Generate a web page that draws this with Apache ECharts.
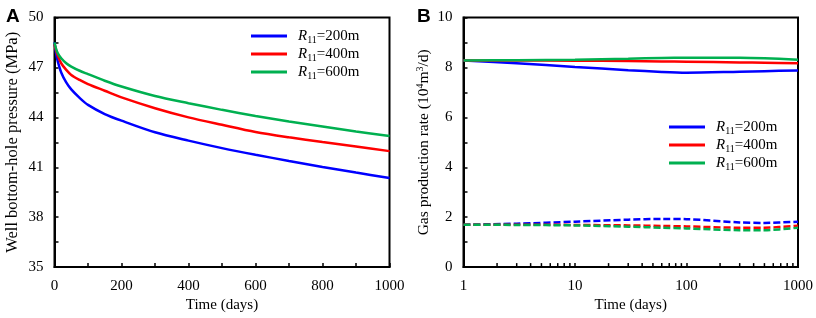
<!DOCTYPE html>
<html>
<head>
<meta charset="utf-8">
<script src="https://cdn.jsdelivr.net/npm/echarts@6/dist/echarts.min.js"></script>
<style>
  html, body { margin: 0; padding: 0; background: #fff; }
  #chart { width: 816px; height: 318px; }
</style>
</head>
<body>
<div id="chart"></div>
<script>
// panel A: bottom-hole pressure vs time
var daysA = [0, 5, 10, 20, 35, 50, 75, 100, 150, 200, 300, 400, 500, 600, 700, 800, 900, 1000];
var pres200 = [48.5, 47.8, 47.35, 46.7, 46.1, 45.68, 45.17, 44.75, 44.2, 43.8, 43.1, 42.6, 42.15, 41.75, 41.38, 41.02, 40.68, 40.35];
var pres400 = [48.4, 48.0, 47.7, 47.25, 46.85, 46.55, 46.25, 46.0, 45.6, 45.2, 44.55, 44.0, 43.55, 43.12, 42.8, 42.52, 42.25, 41.97];
var pres600 = [48.5, 48.1, 47.85, 47.55, 47.25, 47.05, 46.8, 46.6, 46.2, 45.85, 45.28, 44.85, 44.45, 44.08, 43.75, 43.45, 43.15, 42.88];

// panel B: gas production rate (log time)
var daysB = [1, 3, 10, 30, 60, 100, 300, 500, 1000];
var rate200 = [8.28, 8.17, 8.02, 7.89, 7.82, 7.79, 7.83, 7.85, 7.88];
var rate400 = [8.28, 8.28, 8.27, 8.26, 8.24, 8.23, 8.20, 8.19, 8.17];
var rate600 = [8.28, 8.29, 8.31, 8.35, 8.38, 8.39, 8.39, 8.37, 8.31];
var low200 = [1.70, 1.74, 1.82, 1.90, 1.93, 1.92, 1.79, 1.77, 1.82];
var low400 = [1.70, 1.70, 1.69, 1.67, 1.65, 1.63, 1.58, 1.58, 1.66];
var low600 = [1.70, 1.69, 1.67, 1.62, 1.58, 1.55, 1.48, 1.48, 1.58];

var seriesNames = ['R11=200m', 'R11=400m', 'R11=600m'];
var legendText = ['=200m', '=400m', '=600m'];
var colors = ['#0000ff', '#ff0000', '#00b050'];
var logMinorTicks = [2, 3, 4, 5, 6, 7, 8, 9, 20, 30, 40, 50, 60, 70, 80, 90, 200, 300, 400, 500, 600, 700, 800, 900];

var serif = 'Liberation Serif';

function pairs(xs, ys) {
  return xs.map(function (x, i) { return [x, ys[i]]; });
}

var legendRich = {
  g: { width: 6 },
  i: { fontFamily: serif, fontStyle: 'italic', fontSize: 15, lineHeight: 18, color: '#000' },
  s: { fontFamily: serif, fontSize: 10, lineHeight: 11, verticalAlign: 'bottom', color: '#000' },
  n: { fontFamily: serif, fontSize: 15, lineHeight: 18, color: '#000' }
};
function legendFmt(name) {
  return '{g|}{i|R}{s|11}{n|' + legendText[seriesNames.indexOf(name)] + '}';
}

function axisCommon() {
  return {
    axisLine: { show: true, lineStyle: { color: '#000', width: 2 } },
    axisTick: { show: true, inside: true, length: 4, lineStyle: { color: '#000', width: 1.5 } },
    minorTick: { show: true, splitNumber: 2, length: 4, lineStyle: { color: '#000', width: 1.5 } },
    splitLine: { show: false },
    minorSplitLine: { show: false },
    axisLabel: {
      fontFamily: serif, fontSize: 15, color: '#000', margin: 11,
      formatter: function (v) { return String(v); }
    },
    nameTextStyle: { fontFamily: serif, fontSize: 15, color: '#000' }
  };
}

function lineSeries(name, xi, yi, data, color, dashed) {
  return {
    name: name,
    type: 'line',
    xAxisIndex: xi,
    yAxisIndex: yi,
    data: data,
    smooth: 0.3,
    showSymbol: false,
    symbol: 'none',
    color: color,
    lineStyle: { color: color, width: 2.5, type: dashed ? [7, 3] : 'solid' },
    z: 3
  };
}

var xA = Object.assign(axisCommon(), {
  type: 'value', gridIndex: 0, min: 0, max: 1000, interval: 200,
  name: 'Time (days)', nameLocation: 'middle', nameGap: 29
});
var yA = Object.assign(axisCommon(), {
  type: 'value', gridIndex: 0, min: 35, max: 50, interval: 3,
  name: 'Well bottom-hole pressure (MPa)', nameLocation: 'middle', nameGap: 33
});
yA.nameTextStyle = { fontFamily: serif, fontSize: 16.5, color: '#000' };
var xB = Object.assign(axisCommon(), {
  type: 'log', logBase: 10, gridIndex: 1, min: 1, max: 1000,
  name: 'Time (days)', nameLocation: 'middle', nameGap: 29,
  minorTick: { show: false }
});
var yB = Object.assign(axisCommon(), {
  type: 'value', gridIndex: 1, min: 0, max: 10, interval: 2,
  name: 'Gas production rate (10{sup|4}m{sup|3}/d)', nameLocation: 'middle', nameGap: 32
});
yB.nameTextStyle = {
  fontFamily: serif, fontSize: 15.5, color: '#000',
  rich: {
    sup: { fontFamily: serif, fontSize: 10, verticalAlign: 'top', lineHeight: 10, color: '#000' }
  }
};

var myChart = echarts.init(document.getElementById('chart'), null, { renderer: 'canvas' });
var option = {
  backgroundColor: '#fff',
  animation: false,
  title: [
    { text: 'A', left: 1, top: 2, textStyle: { fontFamily: 'Liberation Sans', fontWeight: 'bold', fontSize: 19, color: '#000' } },
    { text: 'B', left: 412, top: 2, textStyle: { fontFamily: 'Liberation Sans', fontWeight: 'bold', fontSize: 19, color: '#000' } }
  ],
  grid: [
    { left: 54.5, top: 17.5, width: 335, height: 255, show: true, borderColor: '#000', borderWidth: 2 },
    { left: 463.5, top: 17.5, width: 336, height: 255, show: true, borderColor: '#000', borderWidth: 2 }
  ],
  legend: [
    {
      data: seriesNames, left: 251, top: 27, orient: 'vertical', padding: 0,
      itemWidth: 36, itemHeight: 3, itemGap: 0, icon: 'rect',
      formatter: legendFmt, textStyle: { rich: legendRich, lineHeight: 18 }
    },
    {
      data: seriesNames, left: 669, top: 118, orient: 'vertical', padding: 0,
      itemWidth: 36, itemHeight: 3, itemGap: 0, icon: 'rect',
      formatter: legendFmt, textStyle: { rich: legendRich, lineHeight: 18 }
    }
  ],
  xAxis: [xA, xB],
  yAxis: [yA, yB],
  series: [
    lineSeries(seriesNames[0], 0, 0, pairs(daysA, pres200), colors[0]),
    lineSeries(seriesNames[1], 0, 0, pairs(daysA, pres400), colors[1]),
    lineSeries(seriesNames[2], 0, 0, pairs(daysA, pres600), colors[2]),
    lineSeries(seriesNames[0], 1, 1, pairs(daysB, rate200), colors[0]),
    lineSeries(seriesNames[1], 1, 1, pairs(daysB, rate400), colors[1]),
    lineSeries(seriesNames[2], 1, 1, pairs(daysB, rate600), colors[2]),
    lineSeries('low200', 1, 1, pairs(daysB, low200), colors[0], true),
    lineSeries('low400', 1, 1, pairs(daysB, low400), colors[1], true),
    lineSeries('low600', 1, 1, pairs(daysB, low600), colors[2], true),
    {
      // log axis minor ticks
      type: 'custom', xAxisIndex: 1, yAxisIndex: 1, silent: true, clip: false,
      data: logMinorTicks.map(function (v) { return [v, 0]; }),
      renderItem: function (params, api) {
        var p = api.coord([api.value(0), 0]);
        return {
          type: 'line',
          shape: { x1: p[0], y1: p[1], x2: p[0], y2: p[1] - 4 },
          style: { stroke: '#000', lineWidth: 1.5 }
        };
      },
      z: 5
    }
  ]
};
myChart.setOption(option);
</script>
</body>
</html>
